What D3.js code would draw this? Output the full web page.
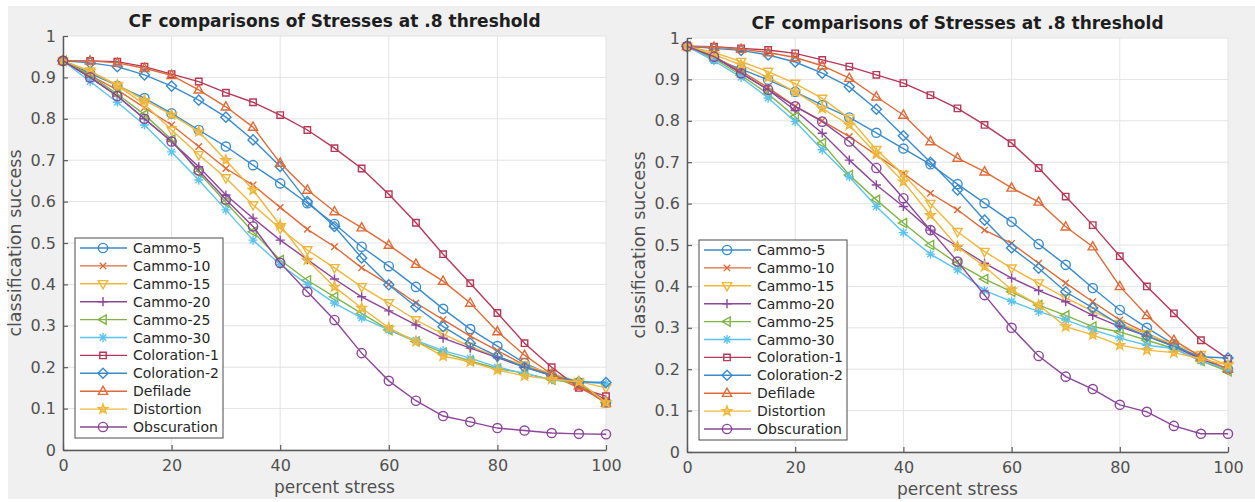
<!DOCTYPE html>
<html>
<head>
<meta charset="utf-8">
<script src="https://cdn.jsdelivr.net/npm/d3@7"></script>
<style>
    body { margin: 0; background: #fff; }
    svg { display: block; font-family: "DejaVu Sans", sans-serif; }
</style>
</head>
<body>
<svg id="fig"></svg>
<script>
const stress = [0, 5, 10, 15, 20, 25, 30, 35, 40, 45, 50, 55, 60, 65, 70, 75, 80, 85, 90, 95, 100];
const xTicks = [0, 20, 40, 60, 80, 100];
const yTicks = [0, 0.1, 0.2, 0.3, 0.4, 0.5, 0.6, 0.7, 0.8, 0.9, 1];
const yTickLabels = ['0', '0.1', '0.2', '0.3', '0.4', '0.5', '0.6', '0.7', '0.8', '0.9', '1'];

const seriesNames = ['Cammo-5', 'Cammo-10', 'Cammo-15', 'Cammo-20', 'Cammo-25', 'Cammo-30',
    'Coloration-1', 'Coloration-2', 'Defilade', 'Distortion', 'Obscuration'];
const seriesColors = ['#3a8bcb', '#de6a38', '#eeb73c', '#8a4698', '#80b446', '#5cc3ee',
    '#b43858', '#3a8bcb', '#de6a38', '#eeb73c', '#8a4698'];
const seriesMarkers = ['circle', 'x', 'tdown', 'plus', 'tleft', 'asterisk',
    'square', 'diamond', 'tup', 'star', 'circle'];

// left figure
const leftCammo5 = [0.94, 0.91, 0.88, 0.85, 0.813, 0.773, 0.733, 0.688, 0.644, 0.596, 0.546, 0.491, 0.444, 0.394, 0.341, 0.292, 0.251, 0.21, 0.18, 0.16, 0.115];
const leftCammo10 = [0.94, 0.905, 0.87, 0.827, 0.785, 0.733, 0.68, 0.64, 0.586, 0.533, 0.491, 0.44, 0.40, 0.355, 0.315, 0.275, 0.24, 0.205, 0.18, 0.15, 0.12];
const leftCammo15 = [0.94, 0.915, 0.88, 0.835, 0.773, 0.713, 0.657, 0.592, 0.535, 0.483, 0.44, 0.394, 0.355, 0.314, 0.28, 0.25, 0.225, 0.205, 0.185, 0.165, 0.15];
const leftCammo20 = [0.94, 0.90, 0.855, 0.80, 0.745, 0.684, 0.616, 0.56, 0.507, 0.46, 0.413, 0.37, 0.336, 0.302, 0.27, 0.246, 0.223, 0.20, 0.18, 0.16, 0.12];
const leftCammo25 = [0.94, 0.905, 0.86, 0.81, 0.75, 0.67, 0.598, 0.527, 0.459, 0.41, 0.37, 0.33, 0.29, 0.262, 0.235, 0.215, 0.197, 0.185, 0.17, 0.16, 0.115];
const leftCammo30 = [0.94, 0.89, 0.84, 0.785, 0.72, 0.652, 0.58, 0.507, 0.448, 0.40, 0.355, 0.319, 0.29, 0.265, 0.24, 0.222, 0.20, 0.185, 0.17, 0.165, 0.16];
const leftColoration1 = [0.94, 0.94, 0.938, 0.926, 0.908, 0.89, 0.863, 0.84, 0.809, 0.773, 0.729, 0.68, 0.618, 0.549, 0.473, 0.403, 0.331, 0.258, 0.20, 0.15, 0.13];
const leftColoration2 = [0.94, 0.935, 0.926, 0.906, 0.879, 0.845, 0.804, 0.749, 0.685, 0.60, 0.54, 0.464, 0.399, 0.346, 0.298, 0.258, 0.227, 0.20, 0.18, 0.165, 0.163];
const leftDefilade = [0.94, 0.94, 0.935, 0.922, 0.905, 0.87, 0.829, 0.78, 0.693, 0.628, 0.576, 0.537, 0.495, 0.449, 0.408, 0.355, 0.286, 0.229, 0.183, 0.155, 0.113];
const leftDistortion = [0.94, 0.915, 0.882, 0.845, 0.81, 0.769, 0.70, 0.628, 0.543, 0.459, 0.394, 0.343, 0.295, 0.262, 0.227, 0.213, 0.193, 0.179, 0.171, 0.165, 0.115];
const leftObscuration = [0.94, 0.90, 0.855, 0.80, 0.745, 0.675, 0.605, 0.54, 0.452, 0.382, 0.314, 0.234, 0.167, 0.119, 0.082, 0.068, 0.053, 0.047, 0.041, 0.039, 0.038];

// right figure
const rightCammo5 = [0.98, 0.95, 0.925, 0.899, 0.87, 0.838, 0.808, 0.771, 0.733, 0.695, 0.647, 0.601, 0.556, 0.502, 0.452, 0.396, 0.343, 0.30, 0.26, 0.225, 0.20];
const rightCammo10 = [0.98, 0.955, 0.92, 0.88, 0.835, 0.80, 0.762, 0.717, 0.673, 0.625, 0.585, 0.536, 0.504, 0.456, 0.408, 0.363, 0.319, 0.287, 0.255, 0.225, 0.20];
const rightCammo15 = [0.98, 0.965, 0.943, 0.919, 0.89, 0.854, 0.806, 0.73, 0.67, 0.60, 0.532, 0.484, 0.444, 0.408, 0.372, 0.34, 0.31, 0.285, 0.26, 0.235, 0.21];
const rightCammo20 = [0.98, 0.955, 0.915, 0.875, 0.825, 0.77, 0.705, 0.645, 0.593, 0.536, 0.497, 0.456, 0.42, 0.39, 0.363, 0.33, 0.303, 0.28, 0.255, 0.225, 0.20];
const rightCammo25 = [0.98, 0.95, 0.91, 0.865, 0.81, 0.746, 0.669, 0.609, 0.553, 0.50, 0.455, 0.418, 0.387, 0.355, 0.33, 0.303, 0.29, 0.27, 0.25, 0.22, 0.195];
const rightCammo30 = [0.98, 0.945, 0.905, 0.855, 0.798, 0.73, 0.665, 0.593, 0.53, 0.478, 0.44, 0.39, 0.364, 0.339, 0.319, 0.295, 0.275, 0.258, 0.25, 0.22, 0.20];
const rightColoration1 = [0.98, 0.979, 0.975, 0.971, 0.963, 0.947, 0.931, 0.911, 0.891, 0.862, 0.83, 0.79, 0.746, 0.686, 0.617, 0.548, 0.473, 0.40, 0.335, 0.27, 0.225];
const rightColoration2 = [0.98, 0.975, 0.97, 0.959, 0.942, 0.915, 0.882, 0.828, 0.764, 0.70, 0.633, 0.56, 0.493, 0.444, 0.387, 0.348, 0.307, 0.28, 0.255, 0.23, 0.227];
const rightDefilade = [0.98, 0.978, 0.973, 0.965, 0.953, 0.933, 0.903, 0.858, 0.814, 0.75, 0.71, 0.677, 0.638, 0.604, 0.544, 0.496, 0.40, 0.33, 0.27, 0.23, 0.20];
const rightDistortion = [0.98, 0.96, 0.935, 0.905, 0.87, 0.83, 0.79, 0.72, 0.653, 0.572, 0.496, 0.448, 0.392, 0.355, 0.303, 0.283, 0.258, 0.246, 0.24, 0.225, 0.21];
const rightObscuration = [0.98, 0.955, 0.915, 0.875, 0.835, 0.798, 0.75, 0.686, 0.613, 0.536, 0.46, 0.379, 0.30, 0.232, 0.182, 0.152, 0.114, 0.097, 0.063, 0.044, 0.044];

const leftValues = [leftCammo5, leftCammo10, leftCammo15, leftCammo20, leftCammo25, leftCammo30,
    leftColoration1, leftColoration2, leftDefilade, leftDistortion, leftObscuration];
const rightValues = [rightCammo5, rightCammo10, rightCammo15, rightCammo20, rightCammo25, rightCammo30,
    rightColoration1, rightColoration2, rightDefilade, rightDistortion, rightObscuration];

// marker glyphs, centred on 0,0
function markerPath(type, r){
    const a = r * 0.7;
    switch(type){
        case 'circle':
            return `M${r},0A${r},${r} 0 1,1 ${-r},0A${r},${r} 0 1,1 ${r},0Z`;
        case 'square':
            return `M${-a},${-a}H${a}V${a}H${-a}Z`;
        case 'diamond':
            return `M0,${-r * 1.1}L${r * 1.1},0L0,${r * 1.1}L${-r * 1.1},0Z`;
        case 'tup':
            return `M0,${-r * 1.1}L${r},${r * 0.7}L${-r},${r * 0.7}Z`;
        case 'tdown':
            return `M0,${r * 1.1}L${r},${-r * 0.7}L${-r},${-r * 0.7}Z`;
        case 'tleft':
            return `M${-r * 1.1},0L${r * 0.7},${-r}L${r * 0.7},${r}Z`;
        case 'x':
            return `M${-a},${-a}L${a},${a}M${-a},${a}L${a},${-a}`;
        case 'plus':
            return `M${-r},0H${r}M0,${-r}V${r}`;
        case 'asterisk':
            return `M${-r},0H${r}M0,${-r}V${r}M${-a},${-a}L${a},${a}M${-a},${a}L${a},${-a}`;
        case 'star': {
            let p = '';
            for(let i = 0; i < 10; i++){
                const rr = i % 2 === 0 ? r * 1.1 : r * 0.45;
                const ang = -Math.PI / 2 + i * Math.PI / 5;
                p += (i === 0 ? 'M' : 'L') + (rr * Math.cos(ang)).toFixed(2) + ',' + (rr * Math.sin(ang)).toFixed(2);
            }
            return p + 'Z';
        }
    }
    return '';
}

class StressPanel{
    constructor(config, values){
        this.config = {
            parent: config.parent,
            left: config.left,
            top: config.top,
            width: config.width,
            height: config.height,
            title: config.title || '',
            legend: config.legend || {x: 12, y: 202, width: 148, height: 200}
        };
        this.values = values;
        this.init();
    }

    init(){
        const c = this.config;
        this.chart = c.parent.append('g')
            .attr('transform', `translate(${c.left}, ${c.top})`);

        this.xscale = d3.scaleLinear()
            .domain([0, 100])
            .range([0, c.width]);

        this.yscale = d3.scaleLinear()
            .domain([0, 1])
            .range([c.height, 0]);

        this.render();
    }

    render(){
        const c = this.config;
        const chart = this.chart;

        chart.append('rect')
            .attr('width', c.width)
            .attr('height', c.height)
            .attr('fill', '#fff');

        // grid
        chart.append('g')
            .selectAll('line')
            .data(xTicks)
            .join('line')
            .attr('x1', d => this.xscale(d)).attr('x2', d => this.xscale(d))
            .attr('y1', 0).attr('y2', c.height)
            .attr('stroke', '#e3e3e3');
        chart.append('g')
            .selectAll('line')
            .data(yTicks)
            .join('line')
            .attr('x1', 0).attr('x2', c.width)
            .attr('y1', d => this.yscale(d)).attr('y2', d => this.yscale(d))
            .attr('stroke', '#e3e3e3');

        // series
        const line = d3.line()
            .x((d, i) => this.xscale(stress[i]))
            .y(d => this.yscale(d));

        seriesNames.forEach((name, k) => {
            const g = chart.append('g');
            g.append('path')
                .attr('d', line(this.values[k]))
                .attr('fill', 'none')
                .attr('stroke', seriesColors[k])
                .attr('stroke-width', 1.4);
            g.selectAll('path.mk')
                .data(this.values[k])
                .join('path')
                .attr('class', 'mk')
                .attr('transform', (d, i) => `translate(${this.xscale(stress[i])}, ${this.yscale(d)})`)
                .attr('d', markerPath(seriesMarkers[k], 4.6))
                .attr('fill', seriesMarkers[k] === 'star' ? seriesColors[k] : 'none')
                .attr('fill-opacity', 0.6)
                .attr('stroke', seriesColors[k])
                .attr('stroke-width', 1.4);
        });

        // axes
        const xaxis = d3.axisBottom(this.xscale)
            .tickValues(xTicks)
            .tickSizeInner(-5)
            .tickSizeOuter(0)
            .tickPadding(10);
        const yaxis = d3.axisLeft(this.yscale)
            .tickValues(yTicks)
            .tickFormat((d, i) => yTickLabels[i])
            .tickSizeInner(-5)
            .tickSizeOuter(0)
            .tickPadding(7);

        const xg = chart.append('g')
            .attr('transform', `translate(0, ${c.height})`)
            .call(xaxis);
        const yg = chart.append('g').call(yaxis);

        [xg, yg].forEach(g => {
            g.select('.domain').attr('stroke', '#5a5a5a').attr('stroke-width', 1.5);
            g.selectAll('.tick line').attr('stroke', '#5a5a5a').attr('stroke-width', 1.2);
            g.selectAll('.tick text')
                .attr('fill', '#505050')
                .attr('font-size', 16)
                .attr('font-family', '"DejaVu Sans", sans-serif');
        });

        chart.append('text')
            .attr('x', c.width / 2)
            .attr('y', -9)
            .attr('text-anchor', 'middle')
            .attr('font-size', 17)
            .attr('font-weight', 'bold')
            .attr('fill', '#1e1e1e')
            .text(c.title);

        chart.append('text')
            .attr('x', c.width / 2)
            .attr('y', c.height + 43)
            .attr('text-anchor', 'middle')
            .attr('font-size', 17)
            .attr('fill', '#505050')
            .text('percent stress');

        chart.append('text')
            .attr('text-anchor', 'middle')
            .attr('transform', `translate(-42, ${c.height / 2}) rotate(-90)`)
            .attr('font-size', 17.5)
            .attr('fill', '#505050')
            .text('classification success');

        // legend
        const lg = chart.append('g')
            .attr('transform', `translate(${c.legend.x}, ${c.legend.y})`);
        lg.append('rect')
            .attr('width', c.legend.width)
            .attr('height', c.legend.height)
            .attr('fill', '#fff')
            .attr('stroke', '#4a4a4a')
            .attr('stroke-width', 1);

        const rowH = 17.9;
        const item = lg.selectAll('g.item')
            .data(seriesNames)
            .join('g')
            .attr('class', 'item')
            .attr('transform', (d, i) => `translate(0, ${10 + i * rowH})`);
        item.append('line')
            .attr('x1', 5).attr('x2', 52)
            .attr('stroke', (d, i) => seriesColors[i])
            .attr('stroke-width', 1.4);
        item.append('path')
            .attr('transform', 'translate(28, 0)')
            .attr('d', (d, i) => markerPath(seriesMarkers[i], 4.6))
            .attr('fill', (d, i) => seriesMarkers[i] === 'star' ? seriesColors[i] : 'none')
            .attr('fill-opacity', 0.6)
            .attr('stroke', (d, i) => seriesColors[i])
            .attr('stroke-width', 1.4);
        item.append('text')
            .attr('x', 58)
            .attr('dy', '0.36em')
            .attr('font-size', 14)
            .attr('fill', '#262626')
            .text(d => d);
    }
}

const svg = d3.select('#fig')
    .attr('width', 1255)
    .attr('height', 502);

svg.append('rect')
    .attr('x', 8).attr('y', 6)
    .attr('width', 1247).attr('height', 493)
    .attr('fill', '#f0f0f0');

new StressPanel({parent: svg, left: 63, top: 36, width: 543, height: 414,
    title: 'CF comparisons of Stresses at .8 threshold'}, leftValues);
new StressPanel({parent: svg, left: 687, top: 38, width: 541, height: 414,
    title: 'CF comparisons of Stresses at .8 threshold'}, rightValues);
</script>
</body>
</html>
